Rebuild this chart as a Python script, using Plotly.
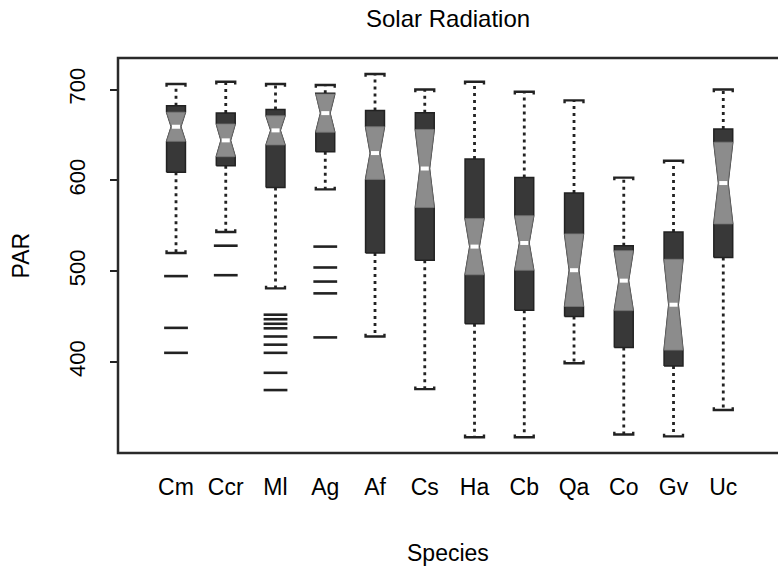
import plotly.graph_objects as go

species = ["Cm", "Ccr", "Ml", "Ag", "Af", "Cs", "Ha", "Cb", "Qa", "Co", "Gv", "Uc"]
q1 = [609, 616, 592, 631.5, 520, 512, 442, 457, 450, 416, 395.5, 515]
median = [659, 644, 655, 674, 630, 613, 527, 531, 501, 489.5, 463, 597]
q3 = [682, 674, 678, 696, 677, 674.5, 623.5, 603, 586, 528, 543, 656.5]
lower_whisker = [520, 543, 481, 590, 428, 370, 317, 317, 398.5, 320, 318, 347]
upper_whisker = [706, 708.5, 706, 705, 717, 700, 708.5, 697.5, 688, 603, 621.5, 700]
notch = [16, 18, 16, 21, 29, 43, 31, 30, 40, 33, 50, 45]
outliers = {
    "Cm": [494.5, 437.5, 410],
    "Ccr": [528, 495.5],
    "Ml": [452, 447, 442, 437, 428, 419, 410, 388, 369],
    "Ag": [527, 504, 488.5, 475.5, 427],
}

xs = list(range(len(species)))
BOX_W = 0.38
HW = BOX_W / 2
NOTCH_FRAC = 0.5
FONT = "Liberation Sans, Arial, sans-serif"
DARK = "#222222"

fig = go.Figure()

# dotted whiskers
wx, wy = [], []
for i in xs:
    wx += [i, i, None, i, i, None]
    wy += [q3[i], upper_whisker[i], None, q1[i], lower_whisker[i], None]
fig.add_trace(go.Scatter(x=wx, y=wy, mode="lines", hoverinfo="skip",
                         line=dict(color=DARK, width=2.8, dash="3px,4px"), showlegend=False))

# staples
sx, sy = [], []
hook = 3.0
for i in xs:
    a, b = i - HW, i + HW
    sx += [a, a, b, b, None]
    sy += [upper_whisker[i] - hook, upper_whisker[i], upper_whisker[i], upper_whisker[i] - hook, None]
    sx += [a, a, b, b, None]
    sy += [lower_whisker[i] + hook, lower_whisker[i], lower_whisker[i], lower_whisker[i] + hook, None]
fig.add_trace(go.Scatter(x=sx, y=sy, mode="lines", hoverinfo="skip",
                         line=dict(color=DARK, width=2.4), showlegend=False))

# notched boxes (dark body)
bx, by = [], []
for i in xs:
    m, n = median[i], notch[i]
    w, wm = HW, HW * NOTCH_FRAC
    bx += [i - w, i - w, i - wm, i - w, i - w, i + w, i + w, i + wm, i + w, i + w, i - w, None]
    by += [q1[i], m - n, m, m + n, q3[i], q3[i], m + n, m, m - n, q1[i], q1[i], None]
fig.add_trace(go.Scatter(x=bx, y=by, mode="lines", fill="toself", fillcolor="#383838",
                         line=dict(color=DARK, width=1.5), hoverinfo="skip", showlegend=False))

# lighter notch (hourglass) region
hx, hy = [], []
for i in xs:
    m, n = median[i], notch[i]
    w, wm = HW, HW * NOTCH_FRAC
    hx += [i - w, i - wm, i - w, i + w, i + wm, i + w, i - w, None]
    hy += [m - n, m, m + n, m + n, m, m - n, m - n, None]
fig.add_trace(go.Scatter(x=hx, y=hy, mode="lines", fill="toself", fillcolor="#8c8c8c",
                         line=dict(color="#777777", width=0.8), hoverinfo="skip", showlegend=False))

# white median marks
mx, my = [], []
for i in xs:
    mx += [i - HW * NOTCH_FRAC * 0.85, i + HW * NOTCH_FRAC * 0.85, None]
    my += [median[i], median[i], None]
fig.add_trace(go.Scatter(x=mx, y=my, mode="lines", hoverinfo="skip", showlegend=False,
                         line=dict(color="white", width=4)))

# outliers as dashes
ox, oy = [], []
for name, vals in outliers.items():
    i = species.index(name)
    ox += [i] * len(vals)
    oy += vals
fig.add_trace(go.Scatter(x=ox, y=oy, mode="markers", hoverinfo="skip", showlegend=False,
                         marker=dict(symbol="line-ew", size=17, line=dict(color=DARK, width=2.6))))

fig.update_layout(
    width=778, height=570,
    margin=dict(l=118, r=0, t=58, b=117),
    paper_bgcolor="white", plot_bgcolor="white",
    font=dict(family=FONT, size=23, color="#000"),
    xaxis=dict(range=[-1.166, 12.1], tickvals=xs, ticktext=species, showgrid=False,
               zeroline=False, showline=False, ticks="", ticklabelstandoff=18,
               tickfont=dict(size=23)),
    yaxis=dict(range=[299.7, 734.7], tickvals=[400, 500, 600, 700], showgrid=False,
               zeroline=False, showline=False, ticks="outside", ticklen=7, tickwidth=1.5,
               tickcolor=DARK, tickangle=-90, ticklabelstandoff=16, tickfont=dict(size=22)),
    shapes=[dict(type="rect", xref="paper", yref="paper", x0=0, x1=1.05, y0=0, y1=1,
                 line=dict(color="#2a2a2a", width=2.5))],
    annotations=[
        dict(text="Solar Radiation", xref="paper", yref="paper", x=0.5, y=1, yshift=40,
             showarrow=False, font=dict(size=24), xanchor="center", yanchor="middle"),
        dict(text="Species", xref="paper", yref="paper", x=0.5, y=0, yshift=-100,
             showarrow=False, font=dict(size=23), xanchor="center", yanchor="middle"),
        dict(text="PAR", xref="paper", yref="paper", x=0, y=0.5, xshift=-98, textangle=-90,
             showarrow=False, font=dict(size=23), xanchor="center", yanchor="middle"),
    ],
)

fig.write_html("out.html")
